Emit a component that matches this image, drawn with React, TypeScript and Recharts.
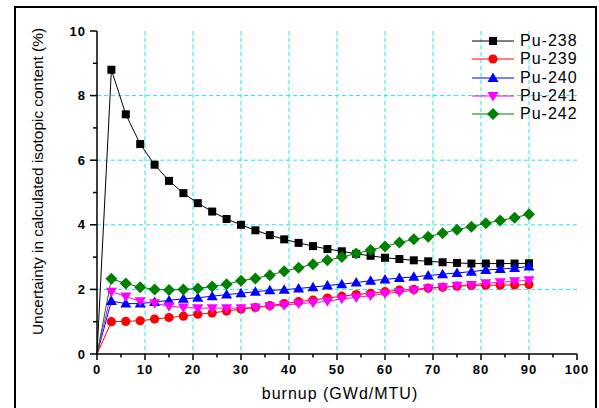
import { LineChart, Line, XAxis, YAxis, CartesianGrid, Legend, Label } from "recharts";

const burnup = [0, 3, 6, 9, 12, 15, 18, 21, 24, 27, 30, 33, 36, 39, 42, 45, 48, 51, 54, 57, 60, 63, 66, 69, 72, 75, 78, 81, 84, 87, 90];
const pu238 = [0, 8.8, 7.42, 6.5, 5.86, 5.36, 4.98, 4.67, 4.41, 4.18, 4.0, 3.83, 3.68, 3.55, 3.44, 3.34, 3.25, 3.18, 3.1, 3.04, 2.98, 2.94, 2.9, 2.87, 2.84, 2.82, 2.8, 2.8, 2.8, 2.8, 2.81];
const pu239 = [0, 1.0, 1.01, 1.03, 1.08, 1.13, 1.17, 1.23, 1.27, 1.33, 1.39, 1.44, 1.5, 1.56, 1.62, 1.67, 1.73, 1.79, 1.84, 1.88, 1.93, 1.98, 2.0, 2.04, 2.07, 2.1, 2.12, 2.13, 2.13, 2.14, 2.15];
const pu240 = [0, 1.64, 1.56, 1.56, 1.61, 1.66, 1.71, 1.74, 1.79, 1.84, 1.88, 1.93, 1.97, 1.99, 2.03, 2.07, 2.12, 2.16, 2.21, 2.27, 2.31, 2.35, 2.39, 2.43, 2.47, 2.51, 2.55, 2.6, 2.63, 2.66, 2.71];
const pu241 = [0, 1.93, 1.78, 1.63, 1.57, 1.48, 1.44, 1.42, 1.42, 1.42, 1.42, 1.44, 1.48, 1.51, 1.56, 1.59, 1.63, 1.71, 1.75, 1.81, 1.87, 1.92, 1.97, 2.03, 2.07, 2.11, 2.14, 2.19, 2.22, 2.25, 2.28];
const pu242 = [0, 2.33, 2.18, 2.07, 2.0, 1.98, 2.0, 2.03, 2.09, 2.16, 2.27, 2.34, 2.44, 2.56, 2.67, 2.78, 2.9, 3.0, 3.11, 3.22, 3.33, 3.45, 3.55, 3.63, 3.74, 3.85, 3.94, 4.05, 4.13, 4.22, 4.33];

const xTicks = [0, 5, 10, 15, 20, 25, 30, 35, 40, 45, 50, 55, 60, 65, 70, 75, 80, 85, 90, 95, 100];
const yTicks = [0, 1, 2, 3, 4, 5, 6, 7, 8, 9, 10];
const xGrid = [10, 20, 30, 40, 50, 60, 70, 80, 90];
const yGrid = [2, 4, 6, 8];

const series = [
  { key: "pu238", name: "Pu-238", color: "#000000", shape: "square" },
  { key: "pu239", name: "Pu-239", color: "#ff0000", shape: "circle" },
  { key: "pu240", name: "Pu-240", color: "#0000ff", shape: "up" },
  { key: "pu241", name: "Pu-241", color: "#ff00ff", shape: "down" },
  { key: "pu242", name: "Pu-242", color: "#008000", shape: "diamond" },
];

const data = burnup.map((b, i) => ({
  burnup: b,
  pu238: pu238[i],
  pu239: pu239[i],
  pu240: pu240[i],
  pu241: pu241[i],
  pu242: pu242[i],
}));

const FONT = "'Liberation Sans', Arial, sans-serif";

function Marker({ cx, cy, shape, color }: { cx: number; cy: number; shape: string; color: string }) {
  if (shape === "square") return <rect x={cx - 4} y={cy - 4} width={8} height={8} fill={color} />;
  if (shape === "circle") return <circle cx={cx} cy={cy} r={4.6} fill={color} />;
  if (shape === "up")
    return <polygon points={`${cx},${cy - 5.5} ${cx - 5.5},${cy + 4} ${cx + 5.5},${cy + 4}`} fill={color} />;
  if (shape === "down")
    return <polygon points={`${cx - 5.5},${cy - 4} ${cx + 5.5},${cy - 4} ${cx},${cy + 5.5}`} fill={color} />;
  return <polygon points={`${cx},${cy - 6} ${cx + 6},${cy} ${cx},${cy + 6} ${cx - 6},${cy}`} fill={color} />;
}

function XTick(p: any) {
  const v = p.payload.value;
  const major = v % 10 === 0;
  return (
    <g>
      <line x1={p.x} x2={p.x} y1={p.y} y2={p.y + (major ? 6 : 3.5)} stroke="#000" strokeWidth={1.5} />
      {major && (
        <text x={p.x} y={p.y + 15} dy="0.35em" textAnchor="middle" fontFamily={FONT} fontWeight="bold" fontSize={13} letterSpacing={1} fill="#000">
          {v}
        </text>
      )}
    </g>
  );
}

function YTick(p: any) {
  const v = p.payload.value;
  const major = v % 2 === 0;
  return (
    <g>
      <line x1={p.x - (major ? 7 : 4)} x2={p.x} y1={p.y} y2={p.y} stroke="#000" strokeWidth={1.5} />
      {major && (
        <text x={p.x - 11} y={p.y} dy="0.35em" textAnchor="end" fontFamily={FONT} fontWeight="bold" fontSize={13} letterSpacing={1} fill="#000">
          {v}
        </text>
      )}
    </g>
  );
}

function LegendBox() {
  return (
    <div style={{ fontFamily: FONT, fontSize: 16, letterSpacing: 1, color: "#000" }}>
      {series.map((s) => (
        <div key={s.key} style={{ display: "flex", alignItems: "center", height: 18.3 }}>
          <svg width={46} height={18} style={{ display: "block" }}>
            <line x1={1} x2={43} y1={9} y2={9} stroke={s.color} strokeWidth={1} />
            <Marker cx={22} cy={9} shape={s.shape} color={s.color} />
          </svg>
          <span style={{ marginLeft: 3 }}>{s.name}</span>
        </div>
      ))}
    </div>
  );
}

export default function App() {
  return (
    <div style={{ position: "absolute", left: 0, top: 0, width: 599, height: 408, overflow: "hidden", background: "#fff" }}>
      <div
        style={{
          position: "absolute",
          left: 14,
          top: 6,
          width: 583,
          height: 420,
          border: "2px solid #000",
          boxSizing: "border-box",
        }}
      />
      <LineChart width={599} height={408} data={data} margin={{ top: 31, right: 22, bottom: 0, left: 0 }}>
        <CartesianGrid
          horizontalValues={yGrid}
          verticalValues={xGrid}
          stroke="#22e4ee"
          strokeDasharray="4 3"
          strokeWidth={1}
        />
        <XAxis
          dataKey="burnup"
          type="number"
          domain={[0, 100]}
          ticks={xTicks}
          interval={0}
          height={54}
          tickSize={0}
          tickMargin={0}
          tick={<XTick />}
          axisLine={{ stroke: "#000", strokeWidth: 1.5 }}
        >
          <Label value="burnup (GWd/MTU)" position="insideBottom" offset={9} dx={3} fontFamily={FONT} fontSize={16} letterSpacing={1} fill="#000" />
        </XAxis>
        <YAxis
          type="number"
          domain={[0, 10]}
          ticks={yTicks}
          interval={0}
          width={97}
          tickSize={0}
          tickMargin={0}
          tick={<YTick />}
          axisLine={{ stroke: "#000", strokeWidth: 1.5 }}
        >
          <Label
            value="Uncertainty in calculated isotopic content (%)"
            angle={-90}
            position="center"
            dx={-11}
            dy={-11}
            fontFamily={FONT}
            fontSize={15.4}
            fill="#000"
          />
        </YAxis>
        <Legend
          layout="vertical"
          align="center"
          verticalAlign="middle"
          content={() => <LegendBox />}
          wrapperStyle={{ top: 32, left: 471, right: "auto", bottom: "auto", width: "auto", height: "auto" }}
        />
        {series.map((s) => (
          <Line
            key={s.key}
            dataKey={s.key}
            name={s.name}
            stroke={s.color}
            strokeWidth={1}
            isAnimationActive={false}
            activeDot={false}
            dot={(p: any) =>
              p.index === 0 ? (
                <g key={`${s.key}-${p.index}`} />
              ) : (
                <Marker key={`${s.key}-${p.index}`} cx={p.cx} cy={p.cy} shape={s.shape} color={s.color} />
              )
            }
          />
        ))}
      </LineChart>
    </div>
  );
}
